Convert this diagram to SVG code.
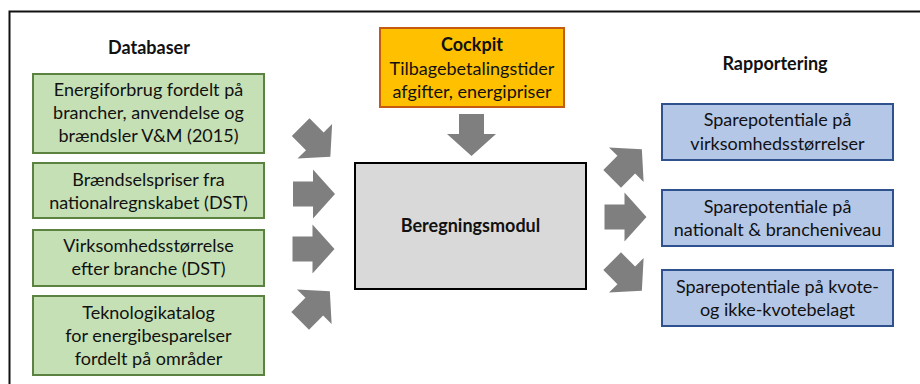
<svg xmlns="http://www.w3.org/2000/svg" width="920" height="384" viewBox="0 0 920 384">
<style>
  text { font-family: Lato, "Liberation Sans", sans-serif; font-size: 18px; fill: #111; text-anchor: middle; }
  .b { font-weight: bold; }
  .g { fill: #c5e0b4; stroke: #5b8240; stroke-width: 2; }
  .bl { fill: #b4c7e7; stroke: #2f528f; stroke-width: 2; }
  .o { fill: #ffc000; stroke: #c55a11; stroke-width: 2; }
  .m { fill: #d9d9d9; stroke: #000; stroke-width: 2; }
  .arr { fill: #7f7f7f; }
</style>
<defs>
  <path id="ra" d="M-21,-12.5 H-1 V-24.5 L21,0 L-1,24.5 V12.5 H-21 Z"/>
</defs>
<rect width="920" height="384" fill="#fff"/>
<path d="M9.5,384 V11.5 H920" fill="none" stroke="#111" stroke-width="2"/>

<text class="b" x="149" y="54">Databaser</text>
<text class="b" x="775" y="70">Rapportering</text>

<g id="db1">
  <rect class="g" x="33" y="74" width="231" height="79"/>
  <text x="148.5" y="96">Energiforbrug fordelt på</text>
  <text x="148.5" y="119">brancher, anvendelse og</text>
  <text x="148.5" y="142">brændsler V&amp;M (2015)</text>
</g>
<g id="db2">
  <rect class="g" x="33" y="163" width="231" height="55"/>
  <text x="148.5" y="186">Brændselspriser fra</text>
  <text x="148.5" y="209">nationalregnskabet (DST)</text>
</g>
<g id="db3">
  <rect class="g" x="33" y="230" width="231" height="56"/>
  <text x="148.5" y="252">Virksomhedsstørrelse</text>
  <text x="148.5" y="275">efter branche (DST)</text>
</g>
<g id="db4">
  <rect class="g" x="33" y="296" width="231" height="79"/>
  <text x="148.5" y="319">Teknologikatalog</text>
  <text x="148.5" y="342">for energibesparelser</text>
  <text x="148.5" y="365">fordelt på områder</text>
</g>

<g id="cockpit">
  <rect class="o" x="380" y="28" width="184" height="79"/>
  <text class="b" x="472" y="51">Cockpit</text>
  <text x="472" y="75">Tilbagebetalingstider</text>
  <text x="472" y="98">afgifter, energipriser</text>
</g>

<g id="beregning">
  <rect class="m" x="355" y="163" width="231" height="126"/>
  <text class="b" x="470.5" y="232">Beregningsmodul</text>
</g>

<g id="rap1">
  <rect class="bl" x="662" y="104" width="231" height="56"/>
  <text x="777.5" y="126">Sparepotentiale på</text>
  <text x="777.5" y="150">virksomhedsstørrelser</text>
</g>
<g id="rap2">
  <rect class="bl" x="662" y="190" width="231" height="56"/>
  <text x="777.5" y="213">Sparepotentiale på</text>
  <text x="777.5" y="236">nationalt &amp; brancheniveau</text>
</g>
<g id="rap3">
  <rect class="bl" x="662" y="270" width="231" height="56"/>
  <text x="777.5" y="293">Sparepotentiale på kvote-</text>
  <text x="777.5" y="316">og ikke-kvotebelagt</text>
</g>

<g id="connectors" class="arr">
  <use href="#ra" transform="translate(315.5,142) rotate(45)"/>
  <use href="#ra" transform="translate(314,194)"/>
  <use href="#ra" transform="translate(313.5,249)"/>
  <use href="#ra" transform="translate(315,306) rotate(-45)"/>
  <use href="#ra" transform="translate(471.5,135) rotate(90)"/>
  <use href="#ra" transform="translate(627,164) rotate(-45)"/>
  <use href="#ra" transform="translate(625.5,217)"/>
  <use href="#ra" transform="translate(627,276) rotate(45)"/>
</g>
</svg>
